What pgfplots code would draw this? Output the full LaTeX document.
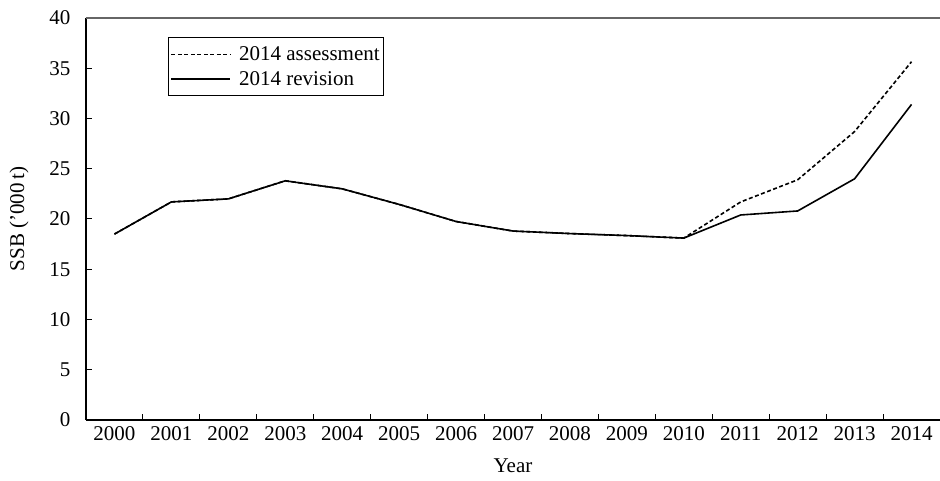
\documentclass[border=0pt]{standalone}
\usepackage{fontspec}
\setmainfont{Liberation Serif}
\usepackage{pgfplots}
\pgfplotsset{compat=1.18}

\pgfplotstableread{
year ssb
0  18.5
1  21.7
2  22.0
3  23.8
4  23.0
5  21.45
6  19.75
7  18.8
8  18.55
9  18.35
10 18.1
11 21.7
12 23.9
13 28.7
14 35.65
}\assessment
\pgfplotstableread{
year ssb
0  18.5
1  21.7
2  22.0
3  23.8
4  23.0
5  21.45
6  19.75
7  18.8
8  18.55
9  18.35
10 18.1
11 20.4
12 20.8
13 24.0
14 31.4
}\revision

\begin{document}
\begin{tikzpicture}
\useasboundingbox (-86pt,-61pt) rectangle (854pt,420pt);
\begin{axis}[
  at={(0,0)}, anchor=south west,
  scale only axis,
  width=854pt, height=402pt,
  xmin=-0.5, xmax=14.5, ymin=0, ymax=40,
  axis x line*=bottom, axis y line*=left,
  axis line style={line width=1.3pt, black, -},
  xtick={0,...,14},
  xticklabels={2000,2001,2002,2003,2004,2005,2006,2007,2008,2009,2010,2011,2012,2013,2014},
  major x tick style={draw=none},
  minor xtick={-0.5,0.5,...,14.5},
  ytick={0,5,...,40},
  tick align=inside,
  major tick length=6pt, minor tick length=6pt,
  tick style={black, line width=1pt},
  font=\fontsize{21}{24}\selectfont,
  /pgf/number format/assume math mode=true,
  yticklabel style={xshift=-12pt},
  xticklabel style={yshift=-3pt},
  xlabel={Year},
  xlabel style={at={(axis description cs:0.5,-0.1144)}, anchor=center},
  ylabel={SSB ('000\,t)},
  ylabel style={at={(axis description cs:-0.0785,0.5)}, anchor=center, rotate=0},
  legend style={at={(axis description cs:0.096,0.952)}, anchor=north west,
    draw=black, line width=1.2pt, fill=white, inner xsep=2pt, inner ysep=7pt, row sep=5pt,
    font=\fontsize{21}{24}\selectfont, cells={anchor=west}},
  legend image code/.code={\draw[#1, line width=1.6pt] (0pt,0pt) -- (59pt,0pt);},
]
\draw[black!60, line width=1.3pt] (rel axis cs:0,1) -- (rel axis cs:1,1);
\addplot[black, line width=1.6pt, dash pattern=on 4pt off 2.5pt] table[x=year, y=ssb] {\assessment};
\addlegendentry{\hspace{6pt}2014 assessment}
\addplot[black, line width=1.6pt] table[x=year, y=ssb] {\revision};
\addlegendentry{\hspace{6pt}2014 revision}
\end{axis}
\end{tikzpicture}
\end{document}
